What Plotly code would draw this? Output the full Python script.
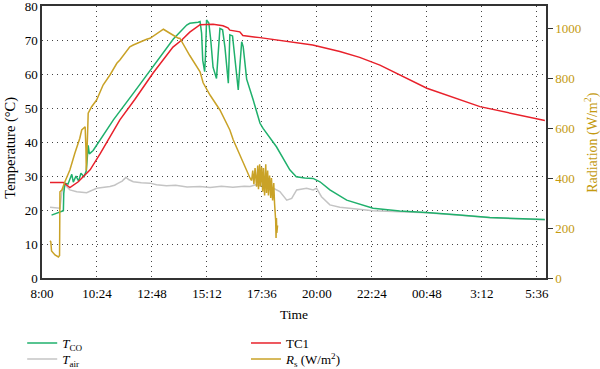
import plotly.graph_objects as go

# time in minutes after 8:00
tick_vals = [0, 144, 288, 432, 576, 720, 864, 1008, 1152, 1296]
tick_text = ["8:00", "10:24", "12:48", "15:12", "17:36", "20:00", "22:24", "00:48", "3:12", "5:36"]

tc1_t = [21, 56, 73, 95, 126, 152, 204, 243, 291, 343, 366, 387, 414, 448, 474, 487, 492, 518, 526,
         571, 709, 780, 832, 885, 1008, 1147, 1317]
tc1_v = [28.1, 28.1, 26.6, 28.3, 31.8, 36.5, 46.5, 52.5, 60.3, 67.9, 70.0, 72.3, 74.5, 74.6, 74.2, 73.6, 72.9, 72.4, 71.3,
         70.7, 68.5, 66.6, 64.9, 62.6, 55.8, 50.4, 46.3]

tco_t = [25, 56, 57, 60, 68, 78, 82, 89, 96, 102, 110, 116, 121, 124, 134, 152, 169, 187, 239, 283, 291,
         344, 379, 387, 409, 414, 418, 421, 426, 428, 431, 437, 442, 448, 457, 461, 466, 473, 479, 488,
         492, 499, 505, 514, 518, 523, 527, 536, 553, 571, 579, 614, 649, 666, 688, 710, 728, 754, 798,
         867, 937, 1007, 1086, 1173, 1317]
tco_v = [18.5, 19.8, 24.9, 27.9, 27.6, 30.5, 28.2, 30.0, 28.5, 30.8, 29.8, 31.5, 39.0, 36.5, 37.5, 40.6, 43.8, 46.5, 54.3, 61.0, 62.2,
         70.3, 74.4, 74.9, 75.2, 75.4, 72.0, 64.0, 60.7, 65.0, 75.9, 75.0, 70.0, 62.0, 58.7, 65.0, 73.4, 73.0, 68.0, 57.3,
         71.5, 71.2, 65.0, 55.3, 62.0, 69.5, 68.0, 58.5, 52.4, 45.5, 44.0, 38.6, 31.8, 29.8, 29.4, 29.3, 28.3, 25.9, 22.9,
         20.5, 19.7, 19.3, 18.6, 17.8, 17.2]

tair_t = [21, 47, 52, 60, 73, 91, 117, 143, 178, 190, 200, 210, 220, 228, 239, 260, 283, 300, 326, 350, 380,
          414, 440, 470, 500, 530, 545, 560, 590, 606, 623, 641, 654, 667, 693, 710, 719, 732, 754, 780,
          867, 937, 1007, 1086, 1173, 1317]
tair_v = [20.8, 20.5, 25.4, 27.4, 25.9, 25.4, 25.1, 26.4, 26.9, 27.3, 27.9, 28.5, 29.6, 28.9, 28.3, 28.0, 27.9, 27.4, 27.1, 27.3, 26.8,
          26.9, 26.6, 27.0, 26.7, 27.0, 26.9, 27.4, 27.0, 26.4, 25.4, 22.9, 23.4, 25.9, 26.4, 25.9, 26.4, 23.9, 21.5, 20.8,
          19.8, 19.6, 19.2, 18.5, 17.7, 17.1]

rs_t = [21, 23, 25, 34, 43, 46, 47, 52, 60, 69, 73, 86, 95, 99, 104, 108, 113, 115, 116, 119, 121, 130, 143,
        160, 178, 196, 204, 230, 239, 274, 283, 318, 322, 335, 357, 361, 387, 414, 422, 440, 466, 492, 501,
        527, 545, 549, 552, 555, 558, 562, 565, 567, 570, 572, 575, 578, 580, 583, 586, 588, 591, 593, 596,
        599, 601, 604, 607, 609, 612, 613, 614, 615, 617]
rs_v = [149, 145, 108, 92, 84, 90, 345, 352, 385, 419, 432, 499, 535, 559, 592, 599, 605, 520, 430, 560, 659, 685, 712,
        772, 812, 859, 872, 925, 932, 955, 959, 995, 992, 979, 959, 959, 890, 825, 781, 732, 672, 592, 552,
        459, 399, 390, 430, 375, 440, 365, 450, 355, 455, 365, 445, 345, 440, 330, 455, 340, 430, 330, 410,
        320, 400, 310, 380, 300, 230, 160, 240, 180, 210]

GREEN = "#1FB06C"
RED = "#E8212B"
GRAY = "#C4C4C4"
GOLD = "#C9A227"
GOLD_TXT = "#C49A10"
FONT = "Liberation Serif"

fig = go.Figure()
fig.add_trace(go.Scatter(x=tair_t, y=tair_v, mode="lines", line=dict(color=GRAY, width=1.5),
                         name="<i>T</i><sub>air</sub>", legend="legend3"))
fig.add_trace(go.Scatter(x=tco_t, y=tco_v, mode="lines", line=dict(color=GREEN, width=1.5),
                         name="<i>T</i><sub>CO</sub>", legend="legend"))
fig.add_trace(go.Scatter(x=tc1_t, y=tc1_v, mode="lines", line=dict(color=RED, width=1.5),
                         name="TC1", legend="legend2"))
fig.add_trace(go.Scatter(x=rs_t, y=rs_v, mode="lines", line=dict(color=GOLD, width=1.5),
                         name="<i>R</i><sub>s</sub> (W/m<sup>2</sup>)", yaxis="y2", legend="legend4"))

grid_col = "#444444"
leg_common = dict(xref="container", yref="container", xanchor="left", yanchor="top",
                  orientation="v", font=dict(size=13), bgcolor="rgba(0,0,0,0)", itemwidth=30)
fig.update_layout(
    width=600, height=369,
    margin=dict(l=42, r=54, t=6, b=91, autoexpand=False),
    paper_bgcolor="white", plot_bgcolor="white",
    font=dict(family=FONT, size=13, color="black"),
    showlegend=True,
    xaxis=dict(range=[0, 1320], tickvals=tick_vals, ticktext=tick_text, automargin=False,
               showgrid=True, gridcolor=grid_col, griddash="1px,4px", gridwidth=1,
               showline=True, linecolor="#333333", linewidth=1.5, mirror=True,
               ticks="", zeroline=False, ticklabelstandoff=3, ticklabeloverflow="allow",
               tickfont=dict(size=13)),
    yaxis=dict(range=[0, 80], dtick=10, showgrid=True, gridcolor=grid_col, griddash="1px,4px", gridwidth=1,
               showline=True, linecolor="#333333", linewidth=1.5, ticks="", zeroline=False, automargin=False,
               ticklabeloverflow="allow", tickfont=dict(size=13)),
    yaxis2=dict(range=[0, 1088], tickvals=[0, 200, 400, 600, 800, 1000], overlaying="y", side="right",
                showgrid=False, showline=True, linecolor="#333333", linewidth=1.5, automargin=False,
                ticks="outside", ticklen=5, tickcolor="#333333", zeroline=False, ticklabeloverflow="allow",
                tickfont=dict(size=13, color=GOLD_TXT)),
    legend=dict(leg_common, x=0.037, y=0.1110),
    legend3=dict(leg_common, x=0.037, y=0.0676),
    legend2=dict(leg_common, x=0.41, y=0.1110),
    legend4=dict(leg_common, x=0.41, y=0.0676),
    annotations=[
        dict(text="Time", xref="paper", yref="paper", x=0.5, y=-0.133, xanchor="center", yanchor="middle",
             showarrow=False, font=dict(size=13.5)),
        dict(text="Temperature (°C)", xref="paper", yref="paper", x=-0.063, y=0.48, textangle=-90,
             xanchor="center", yanchor="middle", showarrow=False, font=dict(size=14.5)),
        dict(text="Radiation (W/m<sup>2</sup>)", xref="paper", yref="paper", x=1.089, y=0.5, textangle=-90,
             xanchor="center", yanchor="middle", showarrow=False, font=dict(size=14, color=GOLD_TXT)),
    ],
)

fig.write_html("out.html", config={"displayModeBar": False},
               post_script="document.body.style.margin='0';")
